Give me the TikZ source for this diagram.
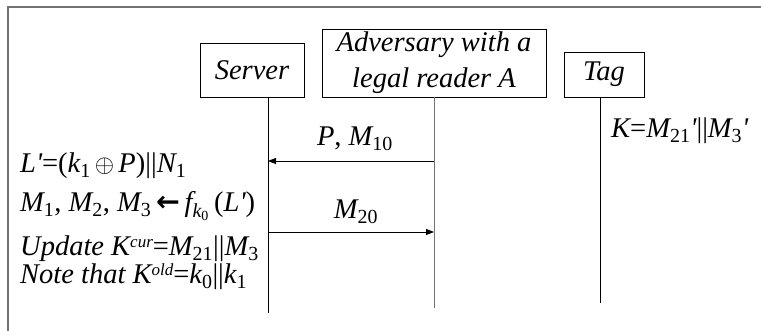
\documentclass[tikz,border=0pt]{standalone}
\usepackage{fontspec}
\setmainfont{Liberation Serif}[ItalicFont={Liberation Serif Italic}, BoldFont={Liberation Serif Bold}]
\newfontfamily\arrowfont{DejaVu Sans}
\usetikzlibrary{arrows.meta}
\newcommand\lsub[1]{\textsubscript{\upshape #1}}
\newcommand\lsup[1]{\raisebox{0.3em}{\fontsize{17}{17}\selectfont #1}}
\newcommand\rmup[1]{{\upshape #1}}
\newcommand\qq{\textquotesingle}
\tikzset{
  actor/.style={draw=black, line width=0.8pt, inner sep=0pt, align=center,
    font=\fontsize{28.5}{36}\selectfont\itshape},
  txt/.style={inner sep=0pt, anchor=base west, font=\fontsize{28.5}{32}\selectfont\itshape},
  lbl/.style={inner sep=0pt, anchor=base, font=\fontsize{28.5}{32}\selectfont\itshape},
  life/.style={line width=0.8pt, draw=black},
  glife/.style={line width=1pt, draw=black!55},
  msg/.style={line width=0.8pt, -{Triangle[length=8pt,width=6pt]}},
  frameline/.style={line width=1.6pt, draw=black!55}
}
\begin{document}
\begin{tikzpicture}[x=1pt,y=-1pt]
\useasboundingbox (0,0) rectangle (761,331);
% partial frame
\coordinate (fTR) at (761,7);
\coordinate (fTL) at (8,7);
\coordinate (fBL) at (8,331);
\draw[frameline] (fTR) -- (fTL) -- (fBL);
% actors
\node[actor, minimum width=104pt, minimum height=54pt] (srv) at (252,70) {Server};
\node[actor, minimum width=224pt, minimum height=68pt] (adv) at (434,63) {Adversary with a\\legal reader A};
\node[actor, minimum width=80pt, minimum height=45pt] (tag) at (604,74.5) {Tag};
% lifelines
\coordinate (srvEnd) at (268,313);
\coordinate (advEnd) at (434,308);
\coordinate (tagEnd) at (600,303);
\coordinate (srvTop) at (268,97);
\coordinate (tagTop) at (600,97);
\draw[life] (srvTop) -- (srvEnd);
\draw[glife] (adv.south) -- (advEnd);
\draw[life] (tagTop) -- (tagEnd);
% messages
\coordinate (a1) at (434,161);
\coordinate (s1) at (268,161);
\coordinate (s2) at (268,232);
\coordinate (a2) at (434,232);
\draw[msg] (a1) -- (s1);
\draw[msg] (s2) -- (a2);
\node[lbl] (m1) at (355,146) {P\rmup{,} M\lsub{10}};
\node[lbl] (m2) at (356,219) {M\lsub{20}};
% server computations
\node[txt] (t1) at (20,173) {L\qq\rmup{=(}k\lsub{1}$\,\oplus\,$P\rmup{)||}N\lsub{1}};
\node[txt] (t2) at (20,212) {M\lsub{1}\rmup{,} M\lsub{2}\rmup{,} M\lsub{3}\,{\arrowfont\bfseries\upshape ←}\,f\textsubscript{\itshape k\textsubscript{\upshape 0}}\,\rmup{(}L\qq\rmup{)}};
\node[txt] (t3) at (20,256) {Update K\lsup{cur}\rmup{=}M\lsub{21}\rmup{||}M\lsub{3}};
\node[txt] (t4) at (20,284) {Note that K\lsup{old}\rmup{=}k\lsub{0}\rmup{||}k\lsub{1}};
% tag
\node[txt] (t5) at (611,138) {K\rmup{=}M\lsub{21}\qq\rmup{||}M\lsub{3}\qq};
\end{tikzpicture}
\end{document}
